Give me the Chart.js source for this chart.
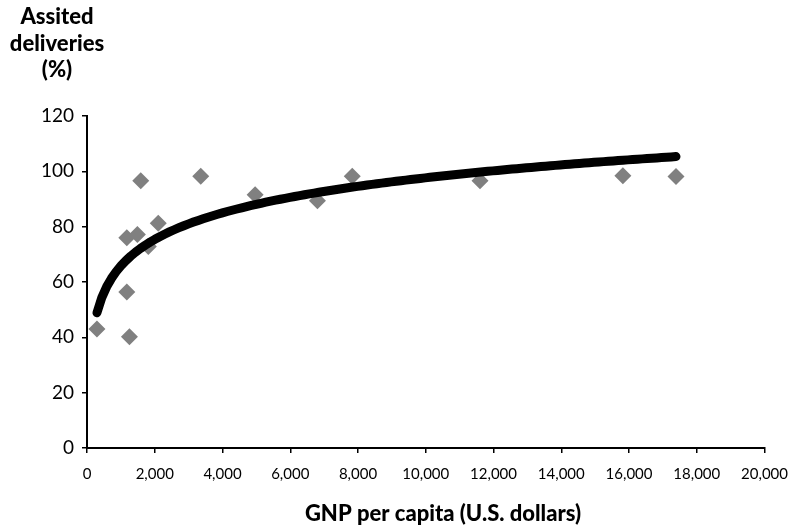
<!DOCTYPE html>
<html>
<head>
<meta charset="utf-8">
<script src="https://cdn.jsdelivr.net/npm/chart.js@4"></script>
<style>
  html, body { margin: 0; padding: 0; background: #fff; }
  #wrap { width: 800px; height: 532px; }
</style>
</head>
<body>
<div id="wrap"><canvas id="gnpChart" width="800" height="532"></canvas></div>
<script>
// GNP per capita vs assisted deliveries
const gnpPerCapita = [294, 1175, 1175, 1252, 1586, 1487, 1810, 2104, 3357, 4963, 6803, 7830, 11601, 15818, 17386];
const assistedDeliveries = [43, 76, 56.4, 40.2, 96.6, 77.2, 72.8, 81.2, 98.2, 91.5, 89.4, 98.2, 96.6, 98.4, 98.1];
const xTicks = [0, 2000, 4000, 6000, 8000, 10000, 12000, 14000, 16000, 18000, 20000];
const yTicks = [0, 20, 40, 60, 80, 100, 120];
const yTitle = ["Assited", "deliveries", "(%)"];
const xTitle = "GNP per capita (U.S. dollars)";

// logarithmic trendline fitted to the points (like Excel's log trend)
function logFit(xs, ys) {
  const lx = xs.map(v => Math.log(v));
  const n = xs.length;
  const mx = lx.reduce((a, b) => a + b, 0) / n;
  const my = ys.reduce((a, b) => a + b, 0) / n;
  let sxy = 0, sxx = 0;
  for (let i = 0; i < n; i++) {
    sxy += (lx[i] - mx) * (ys[i] - my);
    sxx += (lx[i] - mx) * (lx[i] - mx);
  }
  const a = sxy / sxx;
  return { a: a, b: my - a * mx };
}
const fit = logFit(gnpPerCapita, assistedDeliveries);
const xMin = Math.min(...gnpPerCapita), xMax = Math.max(...gnpPerCapita);
const trend = [];
for (let i = 0; i <= 120; i++) {
  const x = xMin + (xMax - xMin) * i / 120;
  trend.push({ x: x, y: fit.a * Math.log(x) + fit.b });
}

const points = gnpPerCapita.map((x, i) => ({ x: x, y: assistedDeliveries[i] }));

// axis titles: y title sits above the axis in three centred lines
const titlesPlugin = {
  id: "titles",
  afterDraw(chart) {
    const c = chart.ctx;
    c.save();
    c.font = "900 22px Lato";
    c.fillStyle = "#000";
    c.textAlign = "center";
    c.textBaseline = "middle";
    yTitle.forEach((t, i) => c.fillText(t, 57, 17 + i * 26.5));
    c.font = "900 22px Lato";
    c.fillText(xTitle, 443, 514);
    c.restore();
  }
};

const ctx = document.getElementById("gnpChart").getContext("2d");
new Chart(ctx, {
  type: "scatter",
  data: {
    datasets: [
      {
        label: "Trend",
        data: trend,
        showLine: true,
        borderColor: "#000",
        borderWidth: 9,
        borderCapStyle: "round",
        borderJoinStyle: "round",
        pointRadius: 0,
        tension: 0,
        order: 0,
      },
      {
        label: "Countries",
        data: points,
        pointStyle: "rectRot",
        pointRadius: 8.5,
        pointBackgroundColor: "#808080",
        pointBorderWidth: 0,
        order: 1,
      },
    ],
  },
  options: {
    responsive: false,
    animation: false,
    layout: { padding: { top: 116, right: 32, left: 0, bottom: 0 } },
    plugins: { legend: { display: false }, tooltip: { enabled: false } },
    scales: {
      x: {
        type: "linear",
        min: 0,
        max: 20000,
        afterBuildTicks: s => { s.ticks = xTicks.map(v => ({ value: v })); },
        ticks: {
          color: "#000",
          font: { family: "Lato", size: 15 },
          padding: 12,
          maxRotation: 0,
          callback: v => v.toLocaleString("en-US"),
        },
        grid: { drawOnChartArea: false, tickLength: 5, color: "#000", lineWidth: 1.5 },
        border: { color: "#000", width: 2 },
        afterFit: s => { s.height = 84; },
      },
      y: {
        min: 0,
        max: 120,
        afterBuildTicks: s => { s.ticks = yTicks.map(v => ({ value: v })); },
        ticks: {
          color: "#000",
          font: { family: "Lato", size: 19 },
          padding: 8,
        },
        grid: { drawOnChartArea: false, tickLength: 5, color: "#000", lineWidth: 1.5 },
        border: { color: "#000", width: 2 },
        afterFit: s => { s.width = 87; },
      },
    },
  },
  plugins: [titlesPlugin],
});
</script>
</body>
</html>
